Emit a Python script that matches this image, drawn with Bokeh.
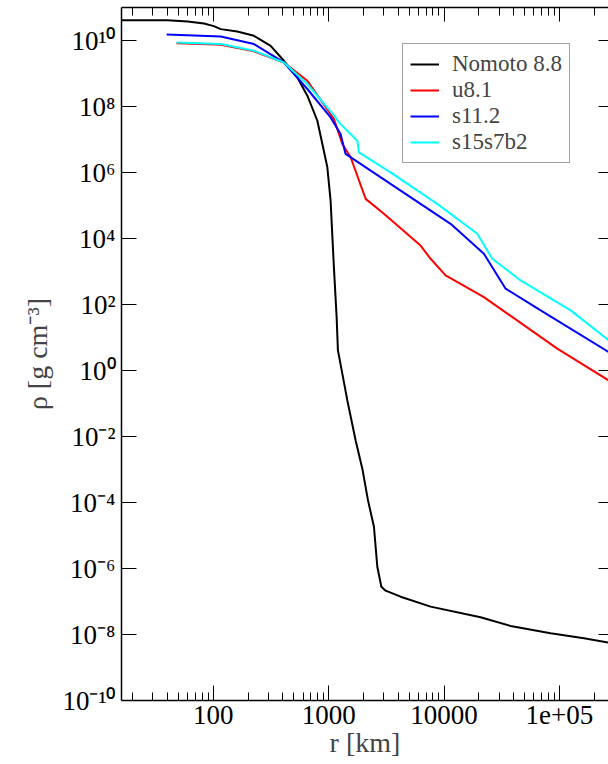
from bokeh.plotting import figure
from bokeh.models import (FixedTicker, LogAxis, Legend, LegendItem,
                          ColumnDataSource, Range1d)
from bokeh.embed import file_html
from bokeh.resources import INLINE

# ---------------- data ----------------
nomoto_r = [15, 25, 40, 60, 83, 101, 116, 161, 225, 314, 409, 535, 653, 797, 881, 973,
            1038, 1109, 1171, 1202, 1312, 1449, 1710, 1967, 2188, 2466, 2638, 2858,
            3113, 4200, 7640, 20700, 37700, 83700, 163000, 266000]
nomoto_rho = [4.14e10, 4.14e10, 4.1e10, 3.76e10, 3.27e10, 2.73e10, 2.21e10, 1.87e10,
              1.39e10, 6.9e9, 2.43e9, 7.6e8, 2.12e8, 3.7e7, 7.3e6, 1.44e6,
              1.41e5, 1.36e3, 41.6, 4.08, 0.805, 0.126, 7.7e-3, 9.6e-4, 1.18e-4,
              1.84e-5, 1.13e-6, 2.8e-7, 2.13e-7, 1.40e-7, 7.0e-8, 3.34e-8, 1.82e-8,
              1.09e-8, 7.7e-9, 5.7e-9]

u81_r = [48, 78, 116, 225, 409, 653, 1109, 1312, 1549, 2090, 3008, 6250, 7640, 10300,
         22130, 95700, 267000]
u81_rho = [8.2e9, 7.9e9, 7.4e9, 4.7e9, 2.16e9, 6.0e8, 4.2e7, 7.3e6, 2.9e6, 1.59e5,
           5.6e4, 6.1e3, 2.43e3, 759, 167, 4.6, 0.50]

s112_r = [39.4, 116, 225, 409, 653, 1038, 1267, 1400, 4200, 11380, 22130, 34150,
          68700, 267000]
s112_rho = [1.52e10, 1.32e10, 7.8e9, 2.16e9, 3.39e8, 4.68e7, 1.47e7, 3.66e6, 2.83e5,
            2.78e4, 3.44e3, 301, 66.4, 3.63]

s15_r = [48, 116, 225, 409, 653, 1148, 1225, 1770, 1828, 3435, 8725, 19400, 26170,
         46000, 125000, 267000]
s15_rho = [8.7e9, 7.8e9, 4.88e9, 2.16e9, 4.8e8, 4.68e7, 3.3e7, 9.2e6, 4.08e6, 1.01e6,
           1.12e5, 1.39e4, 2.43e3, 536, 66.4, 8.2]

series_names = ["Nomoto 8.8", "u8.1", "s11.2", "s15s7b2"]
series_colors = ["black", "red", "blue", "cyan"]

x_ticks = [100, 1000, 10000, 100000]
x_tick_labels = ["100", "1000", "10000", "1e+05"]
x_minor = [20, 30, 40, 50, 60, 70, 80, 90,
           200, 300, 400, 500, 600, 700, 800, 900,
           2000, 3000, 4000, 5000, 6000, 7000, 8000, 9000,
           20000, 30000, 40000, 50000, 60000, 70000, 80000, 90000,
           200000, 300000]
y_ticks = [1e-10, 1e-8, 1e-6, 1e-4, 1e-2, 1e0, 1e2, 1e4, 1e6, 1e8, 1e10]
y_tick_labels = ["10⁻¹⁰", "10⁻⁸", "10⁻⁶", "10⁻⁴", "10⁻²", "10⁰", "10²", "10⁴",
                 "10⁶", "10⁸", "10¹⁰"]

X_START, X_END = 16, 2.66e5
Y_START, Y_END = 1e-10, 1e11

SERIF = "Liberation Serif"

p = figure(width=608, height=764, x_axis_type="log", y_axis_type="log",
           x_range=Range1d(X_START, X_END), y_range=Range1d(Y_START, Y_END),
           output_backend="svg", toolbar_location=None,
           min_border_left=121, min_border_right=0, min_border_top=7,
           min_border_bottom=64)
p.grid.visible = False
p.outline_line_color = None
p.background_fill_color = "white"
p.border_fill_color = "white"

xt = FixedTicker(ticks=x_ticks, minor_ticks=x_minor)
yt = FixedTicker(ticks=y_ticks, minor_ticks=[])

# bottom axis
xa = p.xaxis[0]
xa.ticker = xt
xa.major_label_overrides = {float(t): l for t, l in zip(x_ticks, x_tick_labels)}
xa.major_tick_in = 15
xa.major_tick_out = 0
xa.minor_tick_in = 8
xa.minor_tick_out = 0
xa.axis_line_width = 1.5
xa.major_label_text_font = SERIF
xa.major_label_text_font_size = "27px"
xa.major_label_text_color = "black"
xa.major_label_standoff = 5
xa.axis_label = "r [km]"
xa.axis_label_text_font = SERIF
xa.axis_label_text_font_style = "normal"
xa.axis_label_text_font_size = "28px"
xa.axis_label_standoff = 0

# left axis
ya = p.yaxis[0]
ya.ticker = yt
ya.major_label_overrides = {float(t): l for t, l in zip(y_ticks, y_tick_labels)}
ya.major_tick_in = 15
ya.major_tick_out = 0
ya.minor_tick_in = 0
ya.minor_tick_out = 0
ya.axis_line_width = 1.5
ya.major_label_text_font = SERIF
ya.major_label_text_font_size = "27px"
ya.major_label_text_color = "black"
ya.major_label_standoff = 6
ya.axis_label = "ρ [g cm⁻³]"
ya.axis_label_text_font = SERIF
ya.axis_label_text_font_style = "normal"
ya.axis_label_text_font_size = "28px"
ya.axis_label_standoff = 6

# top axis (ticks only)
ta = LogAxis(ticker=xt, major_tick_in=14, major_tick_out=0, minor_tick_in=8,
             minor_tick_out=0, axis_line_width=1.5, major_label_text_font_size="1px",
             major_label_text_color=None, major_label_standoff=0)
p.add_layout(ta, "above")

# right axis (ticks only)
ra = LogAxis(ticker=yt, major_tick_in=10, major_tick_out=0, minor_tick_in=0,
             minor_tick_out=0, axis_line_color=None, major_label_text_font_size="1px",
             major_label_text_color=None, major_label_standoff=0)
p.add_layout(ra, "right")

# curves
all_r = [nomoto_r, u81_r, s112_r, s15_r]
all_rho = [nomoto_rho, u81_rho, s112_rho, s15_rho]
items = []
for name, color, r, rho in zip(series_names, series_colors, all_r, all_rho):
    src = ColumnDataSource(dict(r=r, rho=rho))
    rend = p.line("r", "rho", source=src, line_color=color, line_width=2)
    items.append(LegendItem(label=name, renderers=[rend]))

legend = Legend(items=items, location=(281, 537), label_text_font=SERIF,
                label_text_font_size="23px",
                label_height=22, glyph_height=22,
                glyph_width=29, label_standoff=13, spacing=0, padding=7, margin=0,
                border_line_color="#444444", border_line_width=1,
                background_fill_alpha=1.0)
p.add_layout(legend)

open("out.html", "w").write(file_html(p, INLINE))
